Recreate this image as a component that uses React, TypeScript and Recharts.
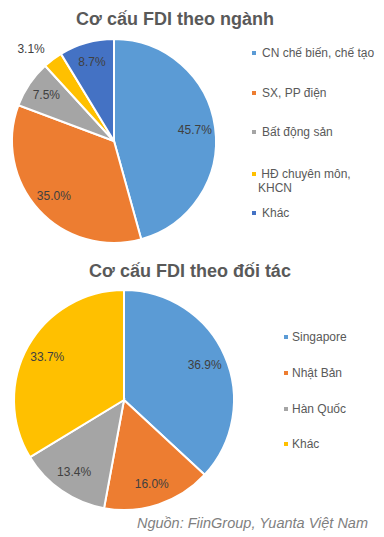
import React from "react";
import { PieChart, Pie, Cell } from "recharts";

const sectorNames = [
  "CN chế biến, chế tạo",
  "SX, PP điện",
  "Bất động sản",
  "HĐ chuyên môn, KHCN",
  "Khác",
];
const sectorValues = [45.7, 35.0, 7.5, 3.1, 8.7];
const sectorColors = ["#5B9BD5", "#ED7D31", "#A5A5A5", "#FFC000", "#4472C4"];

const partnerNames = ["Singapore", "Nhật Bản", "Hàn Quốc", "Khác"];
const partnerValues = [36.9, 16.0, 13.4, 33.7];
const partnerColors = ["#5B9BD5", "#ED7D31", "#A5A5A5", "#FFC000"];

const FONT = '"Liberation Sans", Arial, sans-serif';
const RADIAN = Math.PI / 180;
const NO_MARGIN = { top: 0, right: 0, bottom: 0, left: 0 };

const sectorData = sectorNames.map((name, i) => ({ name, value: sectorValues[i] }));
const partnerData = partnerNames.map((name, i) => ({ name, value: partnerValues[i] }));

const renderLabel = (props: any) => {
  const { cx, cy, midAngle, outerRadius, value, percent } = props;
  const small = percent < 0.05;
  const r = outerRadius * (small ? 1.13 : 0.8);
  const x = cx + r * Math.cos(-midAngle * RADIAN);
  const y = cy + r * Math.sin(-midAngle * RADIAN);
  return (
    <text
      x={x}
      y={y}
      fill="#404040"
      fontSize={12}
      fontFamily={FONT}
      textAnchor={small ? (x < cx ? "end" : "start") : "middle"}
      dominantBaseline="central"
    >
      {`${value.toFixed(1)}%`}
    </text>
  );
};

const legendText: React.CSSProperties = {
  position: "absolute",
  fontSize: 12,
  color: "#595959",
  lineHeight: "14px",
  whiteSpace: "pre",
};

const App: React.FC = () => {
  const topRows = [53, 93, 132, 174, 213];
  const bottomRows = [337, 373, 409, 444];

  return (
    <div
      style={{
        position: "absolute",
        left: 0,
        top: 0,
        width: 384,
        height: 537,
        background: "#fff",
        fontFamily: FONT,
        overflow: "hidden",
      }}
    >
      <div
        style={{
          position: "absolute",
          left: 0,
          width: 350,
          top: 9,
          textAlign: "center",
          fontSize: 18,
          fontWeight: "bold",
          color: "#595959",
        }}
      >
        Cơ cấu FDI theo ngành
      </div>

      <div style={{ position: "absolute", left: 0, top: 0 }}>
        <PieChart width={240} height={250} margin={NO_MARGIN}>
          <Pie
            data={sectorData}
            dataKey="value"
            cx={114}
            cy={141}
            outerRadius={102}
            startAngle={90}
            endAngle={-270}
            stroke="#fff"
            strokeWidth={2}
            labelLine={false}
            label={renderLabel}
            isAnimationActive={false}
          >
            {sectorData.map((d, i) => (
              <Cell key={d.name} fill={sectorColors[i]} />
            ))}
          </Pie>
        </PieChart>
      </div>

      {sectorNames.map((name, i) => (
        <React.Fragment key={name}>
          <div
            style={{
              position: "absolute",
              left: 252,
              top: topRows[i] - 2,
              width: 4,
              height: 4,
              background: sectorColors[i],
            }}
          />
          <div style={{ ...legendText, left: i === 3 ? 258 : 262, top: topRows[i] - 7 }}>
            {i === 3 ? " HĐ chuyên môn,\nKHCN" : name}
          </div>
        </React.Fragment>
      ))}

      <div
        style={{
          position: "absolute",
          left: 0,
          width: 380,
          top: 261,
          textAlign: "center",
          fontSize: 18,
          fontWeight: "bold",
          color: "#595959",
        }}
      >
        Cơ cấu FDI theo đối tác
      </div>

      <div style={{ position: "absolute", left: 0, top: 280 }}>
        <PieChart width={250} height={240} margin={NO_MARGIN}>
          <Pie
            data={partnerData}
            dataKey="value"
            cx={124}
            cy={120}
            outerRadius={110}
            startAngle={90}
            endAngle={-270}
            stroke="#fff"
            strokeWidth={2}
            labelLine={false}
            label={renderLabel}
            isAnimationActive={false}
          >
            {partnerData.map((d, i) => (
              <Cell key={d.name} fill={partnerColors[i]} />
            ))}
          </Pie>
        </PieChart>
      </div>

      {partnerNames.map((name, i) => (
        <React.Fragment key={name}>
          <div
            style={{
              position: "absolute",
              left: 284,
              top: bottomRows[i] - 2,
              width: 4,
              height: 4,
              background: partnerColors[i],
            }}
          />
          <div style={{ ...legendText, left: 292, top: bottomRows[i] - 7 }}>{name}</div>
        </React.Fragment>
      ))}

      <div
        style={{
          position: "absolute",
          right: 16,
          top: 515,
          fontSize: 14.5,
          fontStyle: "italic",
          color: "#7F7F7F",
          whiteSpace: "nowrap",
        }}
      >
        Nguồn: FiinGroup, Yuanta Việt Nam
      </div>
    </div>
  );
};

export default App;
